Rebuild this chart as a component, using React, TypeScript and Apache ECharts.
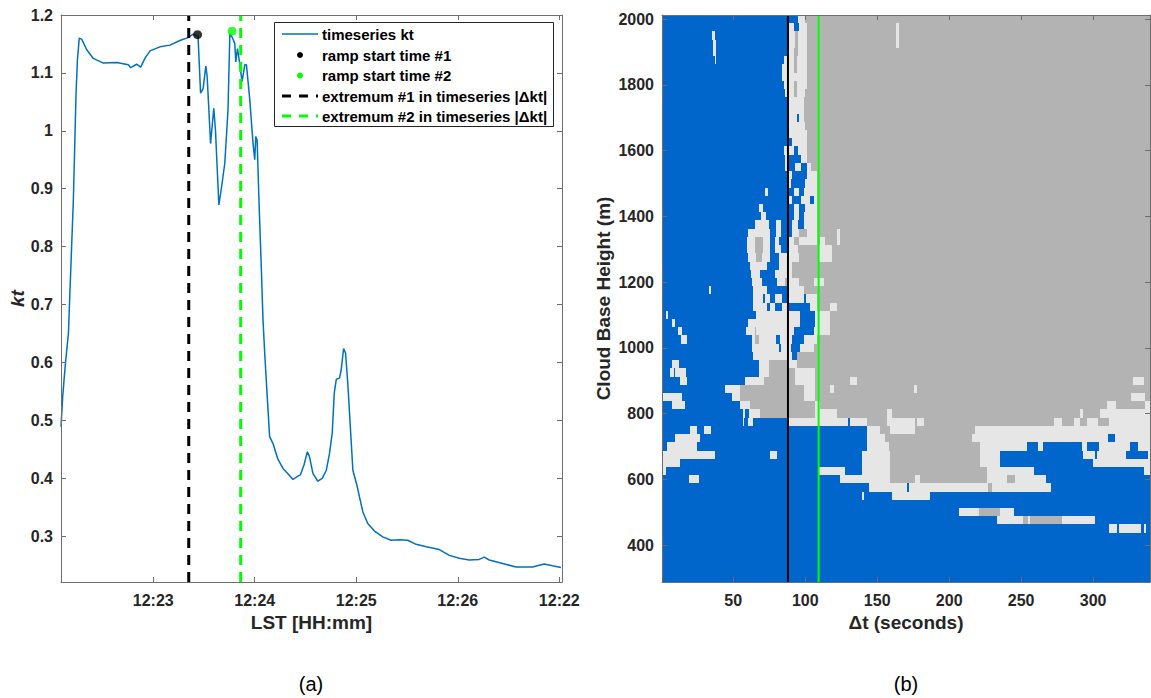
import React, { useEffect, useRef } from "react";
import * as echarts from "echarts";

// ---- Panel (a): clearness index time series (seconds after 12:22:00 LST) ----
const ktSeconds = [
  5.5, 6.5, 8.1, 9.9, 10.6, 12.8, 14.4, 15.2, 16.3, 17.8, 20.7, 24.6, 30.5, 38.4, 45.3, 46.7,
  50.2, 52.6, 55.1, 58.1, 64.0, 69.9, 75.8, 80.6, 83.6, 86.5, 88.0, 89.5, 91.1, 91.9, 93.9,
  95.8, 96.8, 98.8, 100.4, 102.3, 104.2, 105.3, 106.6, 108.2, 108.8, 109.8, 110.7, 112.5,
  114.1, 115.1, 117.1, 119.0, 120.0, 120.6, 121.4, 122.5, 124.0, 124.9, 125.9, 127.5, 128.8,
  130.8, 133.7, 136.7, 139.6, 142.6, 145.0, 147.0, 149.1, 151.1, 152.4, 154.4, 157.3, 159.9,
  162.3, 164.2, 165.8, 167.0, 168.2, 170.1, 171.1, 172.5, 173.7, 175.0, 176.5, 178.0, 180.4,
  181.9, 183.9, 186.8, 190.8, 195.7, 200.6, 205.5, 210.4, 215.4, 221.3, 229.1, 235.0, 240.9,
  246.8, 252.7, 255.7, 258.6, 266.5, 274.4, 284.2, 291.1, 296.0, 301.0,
];
const ktValues = [
  0.489, 0.541, 0.598, 0.651, 0.708, 0.88, 1.065, 1.122, 1.16, 1.158, 1.14, 1.125, 1.117, 1.118,
  1.114, 1.109, 1.115, 1.11, 1.125, 1.138, 1.145, 1.148, 1.156, 1.161, 1.167, 1.163, 1.065,
  1.073, 1.112, 1.093, 0.978, 1.039, 1.001, 0.872, 0.903, 0.944, 1.036, 1.168, 1.162, 1.151,
  1.119, 1.142, 1.125, 1.085, 1.114, 1.114, 1.053, 0.978, 0.95, 0.99, 0.984, 0.88, 0.754,
  0.673, 0.616, 0.535, 0.472, 0.46, 0.433, 0.417, 0.408, 0.398, 0.403, 0.406, 0.423, 0.446,
  0.437, 0.408, 0.395, 0.4, 0.414, 0.443, 0.478, 0.547, 0.571, 0.573, 0.587, 0.624, 0.616,
  0.564, 0.489, 0.414, 0.388, 0.368, 0.342, 0.322, 0.309, 0.299, 0.293, 0.294, 0.293, 0.286,
  0.282, 0.277, 0.267, 0.262, 0.259, 0.26, 0.264, 0.259, 0.253, 0.247, 0.247, 0.252, 0.249,
  0.246,
];
const timeTickSeconds = [60, 120, 180, 240, 300];
const timeTickLabels = ["12:23", "12:24", "12:25", "12:26", "12:22"];
const ktTicks = [0.3, 0.4, 0.5, 0.6, 0.7, 0.8, 0.9, 1.0, 1.1, 1.2];
const extremumSeconds = [81, 111.7];
const rampStartSeconds = [86.2, 106.6];
const rampStartKt = [1.166, 1.172];
const markerColors = ["#000000", "#00ff00"];
const legendLabels = [
  "timeseries kt",
  "ramp start time #1",
  "ramp start time #2",
  "extremum #1 in timeseries |\u0394kt|",
  "extremum #2 in timeseries |\u0394kt|",
];

// ---- Panel (b): cloud base height classes vs. lead time ----
// Each row: bin centre height (m) and runs "<class><end Δt>" (B blue, L light grey, D dark grey)
const cbhRows: [number, string][] = [
  [2000, "B95 L100 D340"],
  [1975, "B88 L92 B96 L101 D163 L165 D340"],
  [1950, "B35 L37 B88 L93 D95 L101 D163 L165 D340"],
  [1925, "B36 L38 B88 L93 D95 L101 D163 L165 D340"],
  [1900, "B36 L38 B88 L92 D95 L101 D340"],
  [1875, "B37 L38 B85 L92 D94 L101 D340"],
  [1850, "B84 L92 D94 L101 D340"],
  [1825, "B84 L101 D340"],
  [1800, "B85 L92 D94 L101 D340"],
  [1775, "B86 L92 D94 L100 D340"],
  [1750, "B87 L99 D340"],
  [1725, "B87 L99 D340"],
  [1700, "B88 L94 B96 L99 D340"],
  [1675, "B88 L100 D340"],
  [1650, "B88 L101 D340"],
  [1625, "B91 L101 D340"],
  [1600, "B85 L87 B88 L92 B95 L101 D340"],
  [1575, "B86 L88 B97 L101 D340"],
  [1550, "B86 L88 B93 L97 B101 L104 D340"],
  [1525, "B88 L91 B101 L108 D340"],
  [1500, "B88 L90 B100 L108 D340"],
  [1475, "B72 L74 B92 L96 B99 L108 D340"],
  [1450, "B88 L91 B97 L103 B106 L108 D340"],
  [1425, "B68 L71 B92 L96 B100 L108 D340"],
  [1400, "B69 L73 B92 L96 B99 L108 D340"],
  [1375, "B65 L74.5 B79.5 L83 B91 L95 B99 L108 D340"],
  [1350, "B60.5 L75.5 B79.5 L83 B91 L96 D101 L108 D122 L124 D340"],
  [1325, "B59.5 L65 D71 L75.5 B79 L82 B88 L92 D96 L108 D110 L114 D122 L124 D340"],
  [1300, "B59.5 L65 D71 L75.7 B79 L83 B88 L95 D109.3 L118.6 D340"],
  [1275, "B60 L66 D70 L75.7 B81.5 L96 D109.3 L118.6 D340"],
  [1250, "B61.8 L73.4 B81.5 L90.7 D340"],
  [1225, "B62 L68.75 B79.2 L90.7 D340"],
  [1200, "B63 L70 B80.3 L86 D88 L95.4 D105.8 L112.7 D340"],
  [1175, "B33 L34.4 B64 L73.4 B87.5 L99 D340"],
  [1150, "B64 L71 B72 L75.7 B79.2 L83.8 B88 L98.8 B100.4 L108 D340"],
  [1125, "B64 L73.4 B75.7 L79.2 B83.8 L88 B103.5 L108 D117.4 L122 D340"],
  [1100, "B3 L4.5 B66 L96.5 B107 L117 D340"],
  [1075, "B7.4 L9.2 B60 L96.5 B107 L117 D340"],
  [1050, "B11.3 L14.3 B59 L65 D66 L92 B106 L117 D340"],
  [1025, "B13.6 L17.8 B63 L65 D68 L80 B82.6 L90.7 B99 L108 D340"],
  [1000, "B63 L81.5 B83 L90 B96.5 L106 D340"],
  [975, "B64 L90.7 B94.2 D340"],
  [950, "B7.4 L12.5 B67.6 L74.6 D88 L94.2 D340"],
  [925, "B6.2 L8.5 B9.7 L17 B67.6 L74.6 D93 L107 D340"],
  [900, "B13.3 L17.8 B58 L71.1 D93 L107 D131.25 L135.9 D328 L335 D340"],
  [875, "B44.2 L54.9 D98.8 L107 D117 L120 D175.7 L177.5 D340"],
  [850, "L14.4 B49.2 L54.9 D98.8 L107 D326 L336 D340"],
  [825, "B7.4 L16.6 B54.9 L61.8 D107 L110 D309.5 L316 D336 L340"],
  [800, "B57 L58.5 B60.7 L68.75 D107 L122 D156.7 L160 D291 L293 D305 L340"],
  [775, "B56.5 L57.6 B60.4 L64 B88 L130 B131 L143 D156.7 L176.4 D177.6 L182.2 D272.5 L278.3 D286.4 L291 D295.6 L303.7 D310.7 L340"],
  [750, "B20 L24.8 B29.8 L34.5 B142.8 L152 D159 L176.4 D218 L340"],
  [725, "B9.7 L27.1 B142.8 L155.6 D215.8 L310 B315.3 L340"],
  [700, "B3.9 L24.8 B142.8 L158 D221.5 L254 B262 L265.5 B292 L295.6 B304.4 L325.7 B331.5 L340"],
  [675, "L37.5 B75.7 L80.3 B139.4 L159 D221.5 L235 B292.8 L301.4 B302.6 L323 B338.4 L340"],
  [650, "L13.2 B139.4 L159 D221.5 L235 B300.2 L340"],
  [625, "L3.5 B109.3 L127.8 B139.4 L159 D226 L258.6 B335 L340"],
  [600, "B19 L26.4 B124.3 L159 D176 L180 D226 L240 D246 L267 B340"],
  [575, "B144 L171 B172 L227 D229.6 L271 B340"],
  [550, "B139.5 L140.5 B160 L186.8 B340"],
  [525, "B340"],
  [500, "B206.5 L220.4 D235.4 L244.7 B340"],
  [475, "B233 L251.6 D255 L256 D278.2 L301.4 B340"],
  [450, "B311.3 L316.9 B318.3 L333.1 B335 L336.6 B340"],
  [425, "B340"],
  [400, "B340"],
  [375, "B340"],
  [350, "B340"],
  [325, "B340"],
  [300, "B340"],
];
const cbhBinSize = 25;
const dtTicks = [50, 100, 150, 200, 250, 300];
const heightTicks = [400, 600, 800, 1000, 1200, 1400, 1600, 1800, 2000];
const cbhMarkerSeconds = [88, 109.3];
const classOrder = ["B", "L", "D"];
const classColors = ["#0066cc", "#e6e6e6", "#b3b3b3"];

const FONT = "'Liberation Sans', Arial, Helvetica, sans-serif";
const AXIS_COLOR = "#6e6e6e";
const TEXT_COLOR = "#262626";

const T_MIN = 5.5;
const T_MAX = 301.6;
const KT_MIN = 0.221;
const KT_MAX = 1.2;
const DT_MIN = 0.5;
const DT_MAX = 339.5;
const H_MIN = 287.5;
const H_MAX = 2012.5;

function buildCells() {
  const cells: number[][] = [];
  cbhRows.forEach(([h, runs]) => {
    let start = DT_MIN;
    runs
      .trim()
      .split(/\s+/)
      .forEach((tok) => {
        const cls = classOrder.indexOf(tok[0]);
        const end = Math.min(parseFloat(tok.slice(1)), DT_MAX);
        if (end > start) cells.push([start, end, h, cls]);
        start = end;
      });
  });
  return cells;
}

function axisPair(
  gridIndex: number,
  min: number,
  max: number,
  ticks: number[],
  horizontal: boolean,
  label: any,
  name: string,
  nameGap: number,
  nameStyle: any
) {
  const base = {
    gridIndex,
    type: "value",
    min,
    max,
    z: 10,
    splitLine: { show: false },
    axisLine: { show: true, onZero: false, lineStyle: { color: AXIS_COLOR, width: 1 } },
    axisTick: { show: true, inside: true, length: 5, customValues: ticks, lineStyle: { color: AXIS_COLOR } },
  };
  const main = {
    ...base,
    position: horizontal ? "bottom" : "left",
    axisLabel: {
      show: true,
      customValues: ticks,
      fontSize: 16,
      fontWeight: "bold",
      fontFamily: FONT,
      color: TEXT_COLOR,
      ...label,
    },
    name,
    nameLocation: "middle",
    nameGap,
    nameTextStyle: { fontFamily: FONT, color: TEXT_COLOR, fontSize: 19, fontWeight: "bold", ...nameStyle },
  };
  const mirror = {
    ...base,
    position: horizontal ? "top" : "right",
    axisLabel: { show: false },
  };
  return [main, mirror];
}

export default function App() {
  const ref = useRef<HTMLDivElement>(null);

  useEffect(() => {
    if (!ref.current) return;
    const chart = echarts.init(ref.current, undefined, { renderer: "svg" });

    const ktData = ktSeconds.map((t, i) => [t, ktValues[i]]);
    const cells = buildCells();

    const [xA0, xA1] = axisPair(
      0, T_MIN, T_MAX, timeTickSeconds, true,
      {
        margin: 10,
        formatter: (v: number) => {
          const i = timeTickSeconds.findIndex((s) => Math.abs(s - v) < 1e-6);
          return i >= 0 ? timeTickLabels[i] : "";
        },
      },
      "LST [HH:mm]", 30, {}
    );
    const [yA0, yA1] = axisPair(
      0, KT_MIN, KT_MAX, ktTicks, false,
      { margin: 8, formatter: (v: number) => String(Math.round(v * 10) / 10) },
      "kt", 33, { fontStyle: "italic" }
    );
    const [xB0, xB1] = axisPair(
      1, DT_MIN, DT_MAX, dtTicks, true,
      { margin: 10, formatter: (v: number) => String(v) },
      "\u0394t (seconds)", 30, {}
    );
    const [yB0, yB1] = axisPair(
      1, H_MIN, H_MAX, heightTicks, false,
      { margin: 8, formatter: (v: number) => String(v) },
      "Cloud Base Height (m)", 49, {}
    );

    const legendX = 282;
    const legendRowsY = [34, 55, 75.5, 96, 116];
    const legendGraphics: any[] = [
      {
        type: "rect",
        shape: { x: 274.5, y: 22.5, width: 279, height: 104 },
        style: { fill: "#ffffff", stroke: "#262626", lineWidth: 1 },
        z: 100,
      },
      {
        type: "line",
        shape: { x1: legendX, y1: legendRowsY[0], x2: legendX + 36, y2: legendRowsY[0] },
        style: { stroke: "#0072bd", lineWidth: 1.5 },
        z: 101,
      },
      {
        type: "circle",
        shape: { cx: legendX + 18, cy: legendRowsY[1], r: 3 },
        style: { fill: markerColors[0] },
        z: 101,
      },
      {
        type: "circle",
        shape: { cx: legendX + 18, cy: legendRowsY[2], r: 3 },
        style: { fill: markerColors[1] },
        z: 101,
      },
      {
        type: "line",
        shape: { x1: legendX, y1: legendRowsY[3], x2: legendX + 36, y2: legendRowsY[3] },
        style: { stroke: markerColors[0], lineWidth: 3, lineDash: [9, 8] },
        z: 101,
      },
      {
        type: "line",
        shape: { x1: legendX, y1: legendRowsY[4], x2: legendX + 36, y2: legendRowsY[4] },
        style: { stroke: markerColors[1], lineWidth: 3, lineDash: [9, 8] },
        z: 101,
      },
      ...legendLabels.map((txt, i) => ({
        type: "text",
        x: 322,
        y: legendRowsY[i],
        style: {
          text: txt,
          fill: "#000000",
          font: `bold 15px ${FONT}`,
          verticalAlign: "middle",
          align: "left",
        },
        z: 101,
      })),
      {
        type: "text",
        x: 311,
        y: 684,
        style: { text: "(a)", fill: "#000000", font: `20px ${FONT}`, align: "center", verticalAlign: "middle" },
      },
      {
        type: "text",
        x: 906,
        y: 684,
        style: { text: "(b)", fill: "#000000", font: `20px ${FONT}`, align: "center", verticalAlign: "middle" },
      },
    ];

    const option: any = {
      animation: false,
      backgroundColor: "#ffffff",
      textStyle: { fontFamily: FONT },
      grid: [
        { left: 61, top: 15, width: 501, height: 567 },
        { left: 662, top: 15, width: 488, height: 567 },
      ],
      xAxis: [xA0, xA1, xB0, xB1],
      yAxis: [yA0, yA1, yB0, yB1],
      graphic: legendGraphics,
      series: [
        {
          name: "timeseries kt",
          type: "line",
          xAxisIndex: 0,
          yAxisIndex: 0,
          data: ktData,
          showSymbol: false,
          symbol: "none",
          lineStyle: { color: "#0072bd", width: 1.5 },
          z: 3,
          silent: true,
        },
        ...extremumSeconds.map((t, i) => ({
          name: `extremum #${i + 1}`,
          type: "line",
          xAxisIndex: 0,
          yAxisIndex: 0,
          data: [
            [t, KT_MIN],
            [t, KT_MAX],
          ],
          symbol: "none",
          lineStyle: { color: markerColors[i], width: 3, type: [10, 7] },
          z: 4,
          silent: true,
        })),
        ...rampStartSeconds.map((t, i) => ({
          name: `ramp start time #${i + 1}`,
          type: "scatter",
          xAxisIndex: 0,
          yAxisIndex: 0,
          data: [[t, rampStartKt[i]]],
          symbol: "circle",
          symbolSize: 9,
          itemStyle: { color: markerColors[i] },
          z: 5,
          silent: true,
        })),
        {
          name: "cloud base height classes",
          type: "custom",
          xAxisIndex: 2,
          yAxisIndex: 2,
          clip: true,
          silent: true,
          dimensions: ["t0", "t1", "h", "cls"],
          encode: { x: [0, 1], y: 2 },
          data: cells,
          renderItem: (_params: any, api: any) => {
            const t0 = api.value(0);
            const t1 = api.value(1);
            const h = api.value(2);
            const c = api.value(3);
            const a = api.coord([t0, h + cbhBinSize / 2]);
            const b = api.coord([t1, h - cbhBinSize / 2]);
            // edges snapped to whole pixels so neighbouring cells meet without seams
            const x0 = Math.round(a[0]);
            const x1 = Math.round(b[0]);
            const y0 = Math.round(a[1]);
            const y1 = Math.round(b[1]);
            return {
              type: "rect",
              shape: { x: x0, y: y0, width: Math.max(x1 - x0, 0), height: Math.max(y1 - y0, 0) },
              style: { fill: classColors[c] },
            };
          },
          z: 2,
        },
        ...cbhMarkerSeconds.map((t, i) => ({
          name: `marker ${i + 1}`,
          type: "line",
          xAxisIndex: 2,
          yAxisIndex: 2,
          data: [
            [t, H_MIN],
            [t, H_MAX],
          ],
          symbol: "none",
          lineStyle: { color: markerColors[i], width: 2 },
          z: 5,
          silent: true,
        })),
      ],
    };

    chart.setOption(option);
    return () => chart.dispose();
  }, []);

  return (
    <div
      ref={ref}
      style={{ position: "fixed", left: 0, top: 0, width: 1151, height: 698, background: "#ffffff" }}
    />
  );
}
